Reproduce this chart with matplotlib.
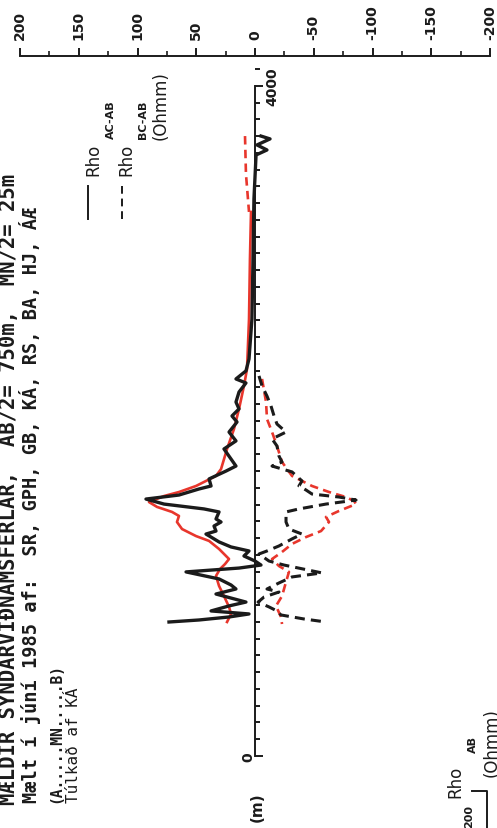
#!/usr/bin/env python3

import matplotlib.pyplot as plt
from matplotlib.lines import Line2D
from matplotlib.ticker import MultipleLocator

plt.rcParams['axes.unicode_minus'] = False
plt.rcParams['font.family'] = ['DejaVu Sans']

W, H = 497, 829

# Rho AC-AB, black solid: distance (m) and resistivity (Ohmm)
d_ac = [3701, 3684, 3648, 3618, 3588, 3325, 2967, 2609, 2370, 2299,
        2251, 2227, 2173, 2113, 2072, 2030, 1994, 1934, 1881, 1833,
        1773, 1731, 1701, 1654, 1612, 1594, 1558, 1534, 1504, 1475,
        1457, 1415, 1397, 1373, 1343, 1325, 1307, 1278, 1248, 1224,
        1194, 1164, 1140, 1122, 1099, 1057, 1021, 997, 967, 919,
        896, 866, 848, 830, 812, 800]
rho_ac = [-5.1, -12.8, -1.7, -10.2, -0.9, 0.9, 1.7, 2.6, 5.1, 7.7,
          16.2, 7.7, 13.6, 16.2, 13.6, 19.6, 15.3, 22.1, 16.2, 26.4,
          20.4, 16.2, 24.7, 39.1, 37.4, 47.7, 64.7, 92.8, 77.4, 43.4,
          30.6, 33.2, 28.9, 34.9, 33.2, 41.7, 37.4, 30.6, 20.4, 5.1,
          9.4, 0, -5.1, 13.6, 58.7, 30.6, 20.4, 16.2, 33.2, 7.7,
          22.1, 37.4, 5.1, 22.1, 47.7, 73.2]

# Rho BC-AB, black dashed
d_bc = [2269, 2209, 2149, 2090, 2030, 1982, 1934, 1893, 1851, 1791,
        1755, 1731, 1696, 1642, 1612, 1588, 1564, 1546, 1528, 1504,
        1475, 1457, 1397, 1355, 1325, 1296, 1254, 1224, 1206, 1164,
        1140, 1093, 1069, 1033, 997, 979, 949, 919, 890, 866,
        842, 818, 800]
rho_bc = [-3.4, -6.0, -10.2, -13.6, -16.2, -18.7, -26.4, -14.5, -18.7, -20.4,
          -23.0, -14.5, -31.5, -40.0, -37.4, -43.4, -48.5, -71.5, -86.0, -60.4,
          -37.4, -26.4, -26.4, -28.9, -40.0, -31.5, -20.4, -10.2, -3.4, -11.9,
          -24.7, -57.0, -31.5, -20.4, -10.2, -20.4, -7.7, -2.6, -11.9, -18.7,
          -22.1, -41.7, -60.4]

# red solid (model, AC-AB)
d_rs = [3248, 2967, 2609, 2310, 2209, 2072, 1952, 1833, 1713, 1672,
        1612, 1576, 1552, 1516, 1487, 1457, 1433, 1397, 1355, 1313,
        1284, 1236, 1176, 1146, 1116, 1075, 1015, 955, 890, 848, 800]
rho_rs = [3.4, 4.3, 5.1, 6.8, 9.4, 13.6, 17.9, 23.8, 28.9, 33.2,
          50.2, 64.7, 77.4, 90.2, 83.4, 70.6, 64.7, 66.4, 62.1, 50.2,
          39.1, 30.6, 22.1, 25.5, 29.8, 33.2, 30.6, 26.4, 22.1, 20.4, 23.8]

# red dashed (model, BC-AB)
d_rd_top = [3701, 3475, 3248]
rho_rd_top = [8.5, 7.7, 5.1]
d_rd = [2251, 2113, 2012, 1934, 1851, 1755, 1672, 1612, 1576, 1546,
        1522, 1504, 1463, 1427, 1397, 1343, 1307, 1266, 1218, 1176,
        1134, 1099, 1039, 955, 896, 830, 788]
rho_rd = [-6.0, -9.4, -10.2, -14.5, -18.7, -23.0, -31.5, -48.5, -63.0, -77.4,
          -84.3, -86.0, -71.5, -60.4, -63.0, -56.2, -43.4, -31.5, -23.0, -14.5,
          -20.4, -28.9, -26.4, -23.0, -17.9, -22.1, -23.0]

rho_ticks = [200, 150, 100, 50, 0, -50, -100, -150, -200]
d_max = 4000

black = '#1b1b1b'
red = '#e8362c'
mono = 'DejaVu Sans Mono'


def fx(px):
    return px / W


def fy(py):
    return 1 - py / H


fig = plt.figure(figsize=(W / 100, H / 100), dpi=100)
fig.patch.set_facecolor('white')
ax = fig.add_axes([fx(20), fy(757), 470 / W, 700 / H])
ax.set_xlim(200, -200)
ax.set_ylim(0, 4179)
ax.patch.set_alpha(0)

# Rho axis on top
ax.spines['bottom'].set_visible(False)
ax.spines['right'].set_visible(False)
ax.spines['top'].set_linewidth(1.4)
ax.spines['top'].set_color(black)
ax.xaxis.tick_top()
ax.set_xticks(rho_ticks)
ax.xaxis.set_minor_locator(MultipleLocator(25))
ax.tick_params(axis='x', which='major', direction='out', length=6, width=1.4,
               pad=6, labelsize=10, labelrotation=90, colors=black)
ax.tick_params(axis='x', which='minor', direction='out', length=3.5, width=1.2,
               colors=black)
for lab in ax.get_xticklabels():
    lab.set_fontweight('bold')

# distance axis along Rho = 0
ax.spines['left'].set_position(('data', 0))
ax.spines['left'].set_bounds(0, d_max)
ax.spines['left'].set_linewidth(1.4)
ax.spines['left'].set_color(black)
ax.set_yticks([0, d_max])
ax.set_yticklabels([])
ax.yaxis.set_minor_locator(MultipleLocator(100))
ax.tick_params(axis='y', which='major', direction='in', length=6, width=1.4,
               colors=black)
ax.tick_params(axis='y', which='minor', direction='in', length=3.5, width=1.4,
               colors=black)

# curves
ax.plot(rho_rs, d_rs, color=red, lw=1.9, solid_joinstyle='round')
ax.plot(rho_rd_top, d_rd_top, color=red, lw=1.9, ls=(0, (3.2, 2.0)))
ax.plot(rho_rd, d_rd, color=red, lw=1.9, ls=(0, (3.2, 2.0)))
ax.plot(rho_ac, d_ac, color=black, lw=2.4, solid_joinstyle='round')
ax.plot(rho_bc, d_bc, color=black, lw=2.2, ls=(0, (3.3, 2.0)))

ax.text(-15, d_max, '4000', rotation=90, ha='center', va='center',
        fontsize=10, fontweight='bold', color=black)
ax.text(6, 0, '0', rotation=90, ha='center', va='center',
        fontsize=10, fontweight='bold', color=black)

# header texts, rotated
fig.text(fx(8), fy(805), 'MÆLDIR SYNDARVIÐNÁMSFERLAR,  AB/2= 750m,  MN/2= 25m',
         rotation=90, ha='center', va='bottom', fontsize=14.8, family=mono,
         fontweight='bold', color=black)
fig.text(fx(30), fy(803), 'Mælt í júní 1985 af:  SR, GPH, GB, KÁ, RS, BA, HJ, ÁÆ',
         rotation=90, ha='center', va='bottom', fontsize=13.4, family=mono,
         fontweight='bold', color=black)
fig.text(fx(56), fy(803), '(A.....MN.....B)', rotation=90, ha='center',
         va='bottom', fontsize=10.5, family=mono, fontweight='bold', color=black)
fig.text(fx(74), fy(803), 'Túlkað af KÁ', rotation=90, ha='center',
         va='bottom', fontsize=11.5, family=mono, color=black)

# legend
fig.add_artist(Line2D([fx(88), fx(88)], [fy(220), fy(187)], color=black, lw=1.4))
fig.add_artist(Line2D([fx(122), fx(122)], [fy(220), fy(187)], color=black,
                      lw=1.4, ls=(0, (4, 2.5))))
fig.text(fx(93), fy(160), 'Rho', rotation=90, ha='center', va='center',
         fontsize=12, color=black)
fig.text(fx(111), fy(120), 'AC-AB', rotation=90, ha='center', va='center',
         fontsize=8, fontweight='bold', color=black)
fig.text(fx(126), fy(160), 'Rho', rotation=90, ha='center', va='center',
         fontsize=12, color=black)
fig.text(fx(143), fy(120), 'BC-AB', rotation=90, ha='center', va='center',
         fontsize=8, fontweight='bold', color=black)
fig.text(fx(161), fy(106), '(Ohmm)', rotation=90, ha='center', va='center',
         fontsize=12, color=black)

fig.text(fx(257), fy(807), '(m)', rotation=90, ha='center', va='center',
         fontsize=11, fontweight='bold', color=black)

# start of the next panel, cut by the page edge
fig.text(fx(455), fy(782), 'Rho', rotation=90, ha='center', va='center',
         fontsize=12, color=black)
fig.text(fx(473), fy(745), 'AB', rotation=90, ha='center', va='center',
         fontsize=8, fontweight='bold', color=black)
fig.text(fx(469), fy(805), '200', rotation=90, ha='center', va='top',
         fontsize=8, fontweight='bold', color=black)
fig.text(fx(492), fy(777), '(Ohmm)', rotation=90, ha='center', va='bottom',
         fontsize=12, color=black)
fig.add_artist(Line2D([fx(472), fx(487), fx(487)], [fy(792), fy(792), fy(829)],
                      color=black, lw=1.4))

fig.savefig('out.png', dpi=100)
